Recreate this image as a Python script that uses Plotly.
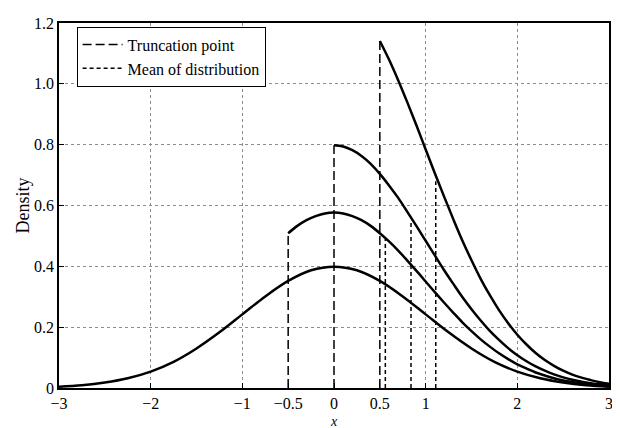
import plotly.graph_objects as go

# ---- data ----
x_full = [-3, -2.75, -2.5, -2.25, -2, -1.75, -1.5, -1.25, -1, -0.75, -0.5, -0.25,
          0, 0.25, 0.5, 0.75, 1, 1.25, 1.5, 1.75, 2, 2.25, 2.5, 2.75, 3]
y_untrunc = [0.004, 0.009, 0.018, 0.032, 0.054, 0.086, 0.130, 0.183, 0.242, 0.301, 0.352, 0.387,
             0.399, 0.387, 0.352, 0.301, 0.242, 0.183, 0.130, 0.086, 0.054, 0.032, 0.018, 0.009, 0.004]

x_tm05 = [-0.5, -0.4, -0.3, -0.2, -0.1, 0, 0.1, 0.2, 0.3, 0.4, 0.5, 0.6, 0.7, 0.8, 0.9, 1.0,
          1.1, 1.2, 1.3, 1.4, 1.5, 1.6, 1.7, 1.8, 1.9, 2.0, 2.1, 2.2, 2.3, 2.4, 2.5,
          2.6, 2.7, 2.8, 2.9, 3.0]
y_tm05 = [0.509, 0.533, 0.552, 0.565, 0.574, 0.577, 0.574, 0.565, 0.552, 0.533, 0.509, 0.482,
          0.452, 0.419, 0.385, 0.350, 0.315, 0.281, 0.248, 0.216, 0.187, 0.160, 0.136, 0.114,
          0.095, 0.078, 0.064, 0.051, 0.041, 0.032, 0.025, 0.020, 0.015, 0.011, 0.009, 0.006]

x_t0 = [0, 0.1, 0.2, 0.3, 0.4, 0.5, 0.6, 0.7, 0.8, 0.9, 1.0, 1.1, 1.2, 1.3, 1.4, 1.5,
        1.6, 1.7, 1.8, 1.9, 2.0, 2.1, 2.2, 2.3, 2.4, 2.5, 2.6, 2.7, 2.8, 2.9, 3.0]
y_t0 = [0.798, 0.794, 0.782, 0.763, 0.737, 0.704, 0.666, 0.625, 0.579, 0.532, 0.484, 0.436,
        0.388, 0.343, 0.299, 0.259, 0.222, 0.188, 0.158, 0.131, 0.108, 0.088, 0.071, 0.057,
        0.045, 0.035, 0.027, 0.021, 0.016, 0.012, 0.009]

x_t05 = [0.5, 0.6, 0.7, 0.8, 0.9, 1.0, 1.1, 1.2, 1.3, 1.4, 1.5, 1.6, 1.7, 1.8, 1.9, 2.0,
         2.1, 2.2, 2.3, 2.4, 2.5, 2.6, 2.7, 2.8, 2.9, 3.0]
y_t05 = [1.141, 1.080, 1.012, 0.939, 0.863, 0.784, 0.706, 0.630, 0.556, 0.485, 0.420, 0.359,
         0.305, 0.256, 0.213, 0.175, 0.143, 0.115, 0.092, 0.073, 0.057, 0.044, 0.034, 0.026,
         0.019, 0.014]

trunc_points = [-0.5, 0, 0.5]
trunc_heights = [0.509, 0.798, 1.141]
mean_points = [0.56, 0.84, 1.11]
mean_heights = [0.49, 0.55, 0.68]

x_tickvals = [-3, -2, -1, -0.5, 0, 0.5, 1, 2, 3]
x_ticktext = ["\u22123", "\u22122", "\u22121", "\u22120.5", "0", "0.5", "1", "2", "3"]
x_gridvals = [-2, -1, 1, 2]
y_tickvals = [0, 0.2, 0.4, 0.6, 0.8, 1.0, 1.2]
y_ticktext = ["0", "0.2", "0.4", "0.6", "0.8", "1.0", "1.2"]

FONT = "Liberation Serif, Times New Roman, serif"


def vsegments(xs, hs):
    px, py = [], []
    for xv, hv in zip(xs, hs):
        px += [xv, xv, None]
        py += [0, hv, None]
    return px, py


fig = go.Figure()

tx, ty = vsegments(trunc_points, trunc_heights)
fig.add_trace(go.Scatter(x=tx, y=ty, mode="lines", name="Truncation point",
                         line=dict(color="black", width=1.5, dash="9px,4px")))
mx, my = vsegments(mean_points, mean_heights)
fig.add_trace(go.Scatter(x=mx, y=my, mode="lines", name="Mean of distribution",
                         line=dict(color="black", width=1.5, dash="4px,3px")))

for xs, ys in [(x_full, y_untrunc), (x_tm05, y_tm05), (x_t0, y_t0), (x_t05, y_t05)]:
    fig.add_trace(go.Scatter(x=xs, y=ys, mode="lines", showlegend=False,
                             line=dict(color="black", width=2.5, shape="spline", smoothing=1.0)))

grid_style = dict(gridcolor="#8c8c8c", gridwidth=1, griddash="dot")

# page body has an 8px default margin, so the figure is 8px smaller than the window
fig.update_layout(
    width=612, height=420,
    margin=dict(l=51, r=7, t=8, b=40),
    paper_bgcolor="white", plot_bgcolor="white",
    font=dict(family=FONT, size=16, color="black"),
    showlegend=True,
    legend=dict(x=0.032, y=0.99, xanchor="left", yanchor="top",
                bgcolor="white", bordercolor="black", borderwidth=1,
                font=dict(family=FONT, size=16), tracegroupgap=0,
                itemwidth=40),
    xaxis=dict(range=[-3, 3], tickvals=x_tickvals, ticktext=x_ticktext,
               showgrid=False, zeroline=False,
               minor=dict(tickvals=x_gridvals, showgrid=True, ticks="", **grid_style),
               showline=True, mirror=True, linecolor="black", linewidth=1.5,
               ticks="inside", ticklen=5, tickcolor="black",
               ticklabeloverflow="allow",
               tickfont=dict(family=FONT, size=16)),
    yaxis=dict(range=[0, 1.2], tickvals=y_tickvals, ticktext=y_ticktext,
               showgrid=True, zeroline=False, **grid_style,
               showline=True, mirror=True, linecolor="black", linewidth=1.5,
               ticks="inside", ticklen=5, tickcolor="black",
               tickfont=dict(family=FONT, size=16),
               title=dict(text="Density", font=dict(family=FONT, size=18), standoff=0)),
    annotations=[dict(text="<i>x</i>", xref="paper", yref="paper", x=0.5, y=0,
                      xanchor="center", yanchor="middle", yshift=-33, showarrow=False,
                      font=dict(family=FONT, size=14))],
)

fig.write_html("out.html")
